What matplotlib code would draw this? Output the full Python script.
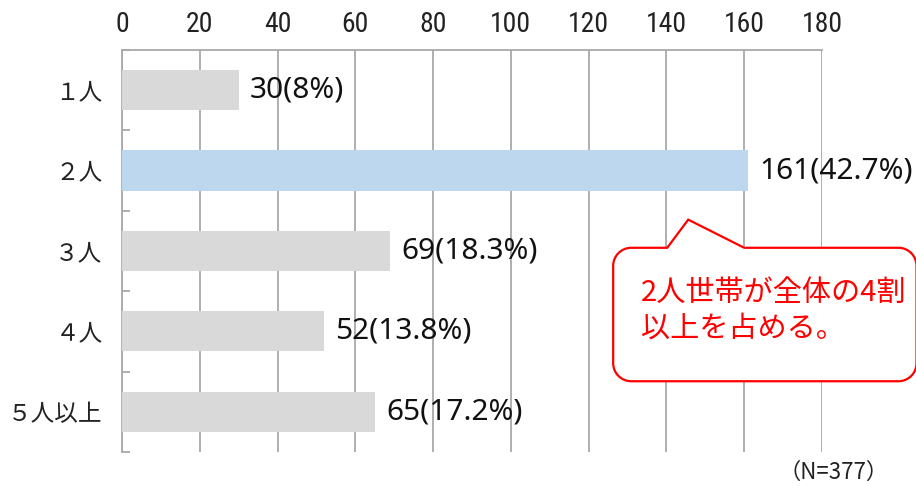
import matplotlib.pyplot as plt
import numpy as np
from matplotlib.path import Path
from matplotlib.patches import PathPatch

plt.rcParams['font.family'] = ['Noto Sans CJK JP', 'DejaVu Sans']

categories = ["１人", "２人", "３人", "４人", "５人以上"]
counts = [30, 161, 69, 52, 65]
shares = [8, 42.7, 18.3, 13.8, 17.2]
highlight = "２人"
xticks = list(range(0, 181, 20))
total_n = 377
note = "2人世帯が全体の4割\n以上を占める。"

GREY = "#d9d9d9"
BLUE = "#bdd7ee"
GRID = "#a9a9a9"
RED = "#ff0000"

fig = plt.figure(figsize=(9.16, 4.86), dpi=100)
ax = fig.add_axes([122 / 916, 1 - 452 / 486, 700 / 916, 402 / 486])

y = np.arange(len(categories))
colors = [BLUE if c == highlight else GREY for c in categories]
ax.barh(y, counts, height=0.5, color=colors, zorder=3)

ax.set_xlim(0, 180)
ax.set_ylim(len(categories) - 0.5, -0.5)

# top axis, narrow digits
ax.xaxis.tick_top()
ax.set_xticks(xticks)
ax.set_xticklabels([str(v) for v in xticks],
                   family=['Roboto Condensed', 'Liberation Sans Narrow', 'DejaVu Sans'],
                   fontstretch='condensed', fontsize=20)
ax.tick_params(axis='x', length=0, pad=9, colors='#222222')
ax.grid(axis='x', color=GRID, linewidth=1.3, zorder=0)

ax.set_yticks(y)
ax.set_yticklabels(categories, fontsize=17)
ax.tick_params(axis='y', length=0, pad=14, colors='#222222')
ax.set_yticks(np.arange(-0.5, len(categories)), minor=True)
ax.tick_params(axis='y', which='minor', direction='in', length=6,
               color=GRID, width=1.3)

for s in ['right', 'bottom']:
    ax.spines[s].set_visible(False)
for s in ['top', 'left']:
    ax.spines[s].set_color(GRID)
    ax.spines[s].set_linewidth(1.3)

# value labels
for yi, c, p in zip(y, counts, shares):
    ax.annotate(f"{c}({p:g}%)", xy=(c, yi), xytext=(8, 0),
                textcoords='offset points', va='center', ha='left',
                fontsize=21.5, color='#111111',
                family=['Noto Sans', 'Noto Sans CJK JP'])

# callout box (pixel geometry anchored on the data scale)
x0, x1 = ax.transData.transform([(126.3, 0), (204.3, 0)])[:, 0]
yt = ax.transData.transform([(0, 1.96)])[0, 1]
yb = ax.transData.transform([(0, 3.62)])[0, 1]
px_a = ax.transData.transform([(140.2, 0)])[0, 0]
px_b = ax.transData.transform([(160.0, 0)])[0, 0]
apex = ax.transData.transform([(145.6, 1.61)])[0]
r = 18
k = 0.55 * r
verts = [
    (x0 + r, yt), (px_a, yt), tuple(apex), (px_b, yt), (x1 - r, yt),
    (x1 - r + k, yt), (x1, yt - r + k), (x1, yt - r),
    (x1, yb + r),
    (x1, yb + r - k), (x1 - r + k, yb), (x1 - r, yb),
    (x0 + r, yb),
    (x0 + r - k, yb), (x0, yb + r - k), (x0, yb + r),
    (x0, yt - r),
    (x0, yt - r + k), (x0 + r - k, yt), (x0 + r, yt),
    (x0 + r, yt),
]
codes = ([Path.MOVETO] + [Path.LINETO] * 4 + [Path.CURVE4] * 3 + [Path.LINETO]
         + [Path.CURVE4] * 3 + [Path.LINETO] + [Path.CURVE4] * 3 + [Path.LINETO]
         + [Path.CURVE4] * 3 + [Path.CLOSEPOLY])
box = PathPatch(Path(verts, codes), facecolor='white', edgecolor=RED,
                linewidth=1.6, transform=None, zorder=5, clip_on=False)
fig.add_artist(box)

fig.text(641 / 916, 1 - 311 / 486, note, color=RED, fontsize=21,
         ha='left', va='center', linespacing=1.25, zorder=6)

fig.text(834 / 916, 1 - 472 / 486, f"（N={total_n}）", fontsize=16,
         ha='center', va='center', color='#222222')

fig.savefig("out.png", dpi=100)
